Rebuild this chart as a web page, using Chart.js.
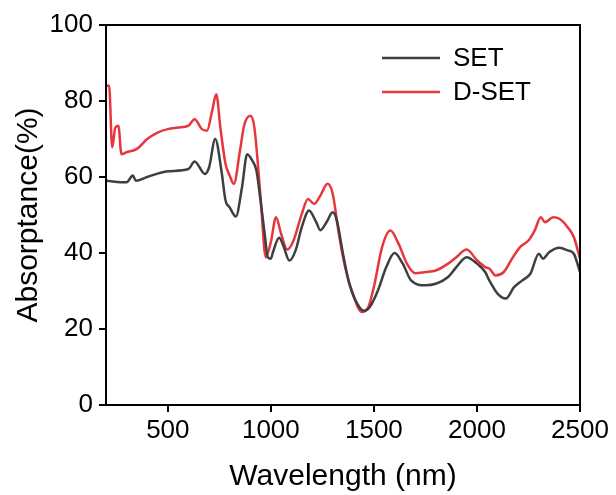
<!DOCTYPE html>
<html>
<head>
<meta charset="utf-8">
<script src="https://cdn.jsdelivr.net/npm/chart.js@4.4.0/dist/chart.umd.min.js"></script>
<style>
  html, body { margin: 0; padding: 0; background: #fff; }
  #wrap { width: 616px; height: 495px; }
</style>
</head>
<body>
<div id="wrap"><canvas id="absChart"></canvas></div>
<script>
// --- data ---
const setWavelengths = [200, 300, 330, 345, 400, 500, 600, 630, 680, 700, 730, 760, 780, 800, 830, 860, 885, 910, 930, 950, 970, 985, 1000, 1010, 1040, 1060, 1090, 1120, 1150, 1185, 1220, 1240, 1270, 1300, 1320, 1350, 1380, 1410, 1450, 1480, 1520, 1560, 1600, 1640, 1680, 1750, 1800, 1860, 1900, 1950, 2000, 2040, 2060, 2100, 2140, 2180, 2220, 2260, 2300, 2320, 2350, 2400, 2440, 2470, 2500];
const setValues = [59.0, 58.6, 60.4, 59.0, 60.0, 61.5, 62.1, 64.1, 60.8, 62.5, 70.0, 61.7, 53.8, 52.0, 49.6, 57.3, 66.0, 64.3, 61.7, 53.8, 45.0, 38.9, 38.5, 40.2, 44.0, 42.0, 38.0, 40.7, 46.8, 51.2, 48.1, 46.0, 48.1, 50.7, 48.6, 39.8, 32.0, 27.6, 24.8, 25.8, 30.2, 36.3, 40.0, 37.2, 32.8, 31.5, 31.9, 33.7, 36.3, 38.9, 37.2, 35.0, 32.8, 29.3, 28.0, 31.0, 32.8, 34.6, 39.8, 38.5, 40.2, 41.4, 40.7, 39.8, 35.0];

const dsetWavelengths = [200, 215, 230, 245, 260, 275, 300, 350, 400, 450, 500, 550, 600, 630, 665, 690, 715, 735, 755, 780, 800, 820, 850, 870, 900, 920, 950, 975, 1000, 1025, 1050, 1080, 1110, 1150, 1180, 1210, 1240, 1275, 1300, 1330, 1360, 1400, 1440, 1470, 1500, 1540, 1580, 1620, 1660, 1700, 1750, 1800, 1860, 1900, 1950, 2000, 2040, 2060, 2090, 2130, 2170, 2210, 2250, 2280, 2310, 2330, 2370, 2400, 2440, 2470, 2500];
const dsetValues = [84.0, 84.0, 67.8, 73.0, 73.5, 66.0, 66.5, 67.4, 70.0, 71.7, 72.6, 73.0, 73.5, 75.2, 72.6, 72.2, 77.4, 81.8, 73.0, 63.4, 60.4, 58.2, 66.9, 73.5, 76.1, 73.0, 54.7, 38.9, 42.9, 49.4, 45.0, 40.9, 43.3, 50.3, 54.2, 52.9, 55.1, 58.2, 55.6, 45.0, 36.3, 28.9, 24.5, 25.4, 31.1, 41.6, 45.9, 42.4, 37.2, 34.7, 35.0, 35.4, 37.2, 38.9, 40.9, 38.1, 36.3, 35.9, 34.1, 35.0, 38.5, 41.6, 43.3, 45.9, 49.4, 48.1, 49.4, 49.0, 46.8, 44.2, 38.5];

const xTicks = [500, 1000, 1500, 2000, 2500];
const seriesNames = ['SET', 'D-SET'];
const seriesColors = ['#3f3f3f', '#e8373c'];

const FONT = 'Arial, "Liberation Sans", sans-serif';

function toPoints(xs, ys) {
    return xs.map((x, i) => ({ x: x, y: ys[i] }));
}

// box around the plot + legend in the upper right
const framePlugin = {
    id: 'frame',
    afterDraw(chart) {
        const { ctx, chartArea } = chart;
        ctx.save();
        ctx.strokeStyle = '#000';
        ctx.lineWidth = 2;
        ctx.strokeRect(chartArea.left, chartArea.top, chartArea.right - chartArea.left, chartArea.bottom - chartArea.top);

        // legend
        const rows = [58, 92];
        ctx.font = '26px ' + FONT;
        ctx.textBaseline = 'middle';
        ctx.textAlign = 'left';
        rows.forEach((y, i) => {
            ctx.strokeStyle = seriesColors[i];
            ctx.lineWidth = 2.5;
            ctx.beginPath();
            ctx.moveTo(382, y);
            ctx.lineTo(440, y);
            ctx.stroke();
            ctx.fillStyle = '#000';
            ctx.fillText(seriesNames[i], 453, y + 1);
        });
        ctx.restore();
    }
};

const ctx = document.getElementById('absChart').getContext('2d');
new Chart(ctx, {
    type: 'line',
    data: {
        datasets: [
            {
                label: seriesNames[0],
                data: toPoints(setWavelengths, setValues),
                borderColor: seriesColors[0],
                borderWidth: 2.5,
                pointRadius: 0,
                tension: 0.4,
                cubicInterpolationMode: 'monotone',
                fill: false
            },
            {
                label: seriesNames[1],
                data: toPoints(dsetWavelengths, dsetValues),
                borderColor: seriesColors[1],
                borderWidth: 2.5,
                pointRadius: 0,
                tension: 0.4,
                cubicInterpolationMode: 'monotone',
                fill: false
            }
        ]
    },
    options: {
        responsive: true,
        maintainAspectRatio: false,
        animation: false,
        layout: { padding: { top: 25, right: 36, bottom: 0, left: 0 } },
        plugins: {
            legend: { display: false },
            tooltip: { enabled: false }
        },
        scales: {
            x: {
                type: 'linear',
                min: 200,
                max: 2500,
                afterBuildTicks: (scale) => { scale.ticks = xTicks.map(v => ({ value: v })); },
                afterFit: (scale) => { scale.height = 90; },
                border: { display: true, color: '#000', width: 2 },
                grid: { drawOnChartArea: false, drawTicks: true, tickLength: 7, color: '#000', lineWidth: 2 },
                ticks: {
                    color: '#000',
                    font: { family: FONT, size: 26 },
                    padding: 3,
                    maxRotation: 0,
                    callback: (v) => String(v)
                },
                title: { display: true, text: 'Wavelength (nm)', color: '#000', font: { family: FONT, size: 30 }, padding: { top: 0, bottom: 0 } }
            },
            y: {
                min: 0,
                max: 100,
                ticks: { stepSize: 20, color: '#000', font: { family: FONT, size: 26 }, padding: 6, callback: (v) => String(v) },
                afterFit: (scale) => { scale.width = 106; },
                border: { display: true, color: '#000', width: 2 },
                grid: { drawOnChartArea: false, drawTicks: true, tickLength: 7, color: '#000', lineWidth: 2 },
                title: { display: true, text: 'Absorptance(%)', color: '#000', font: { family: FONT, size: 30 }, padding: { top: 11, bottom: 0 } }
            }
        }
    },
    plugins: [framePlugin]
});
</script>
</body>
</html>
